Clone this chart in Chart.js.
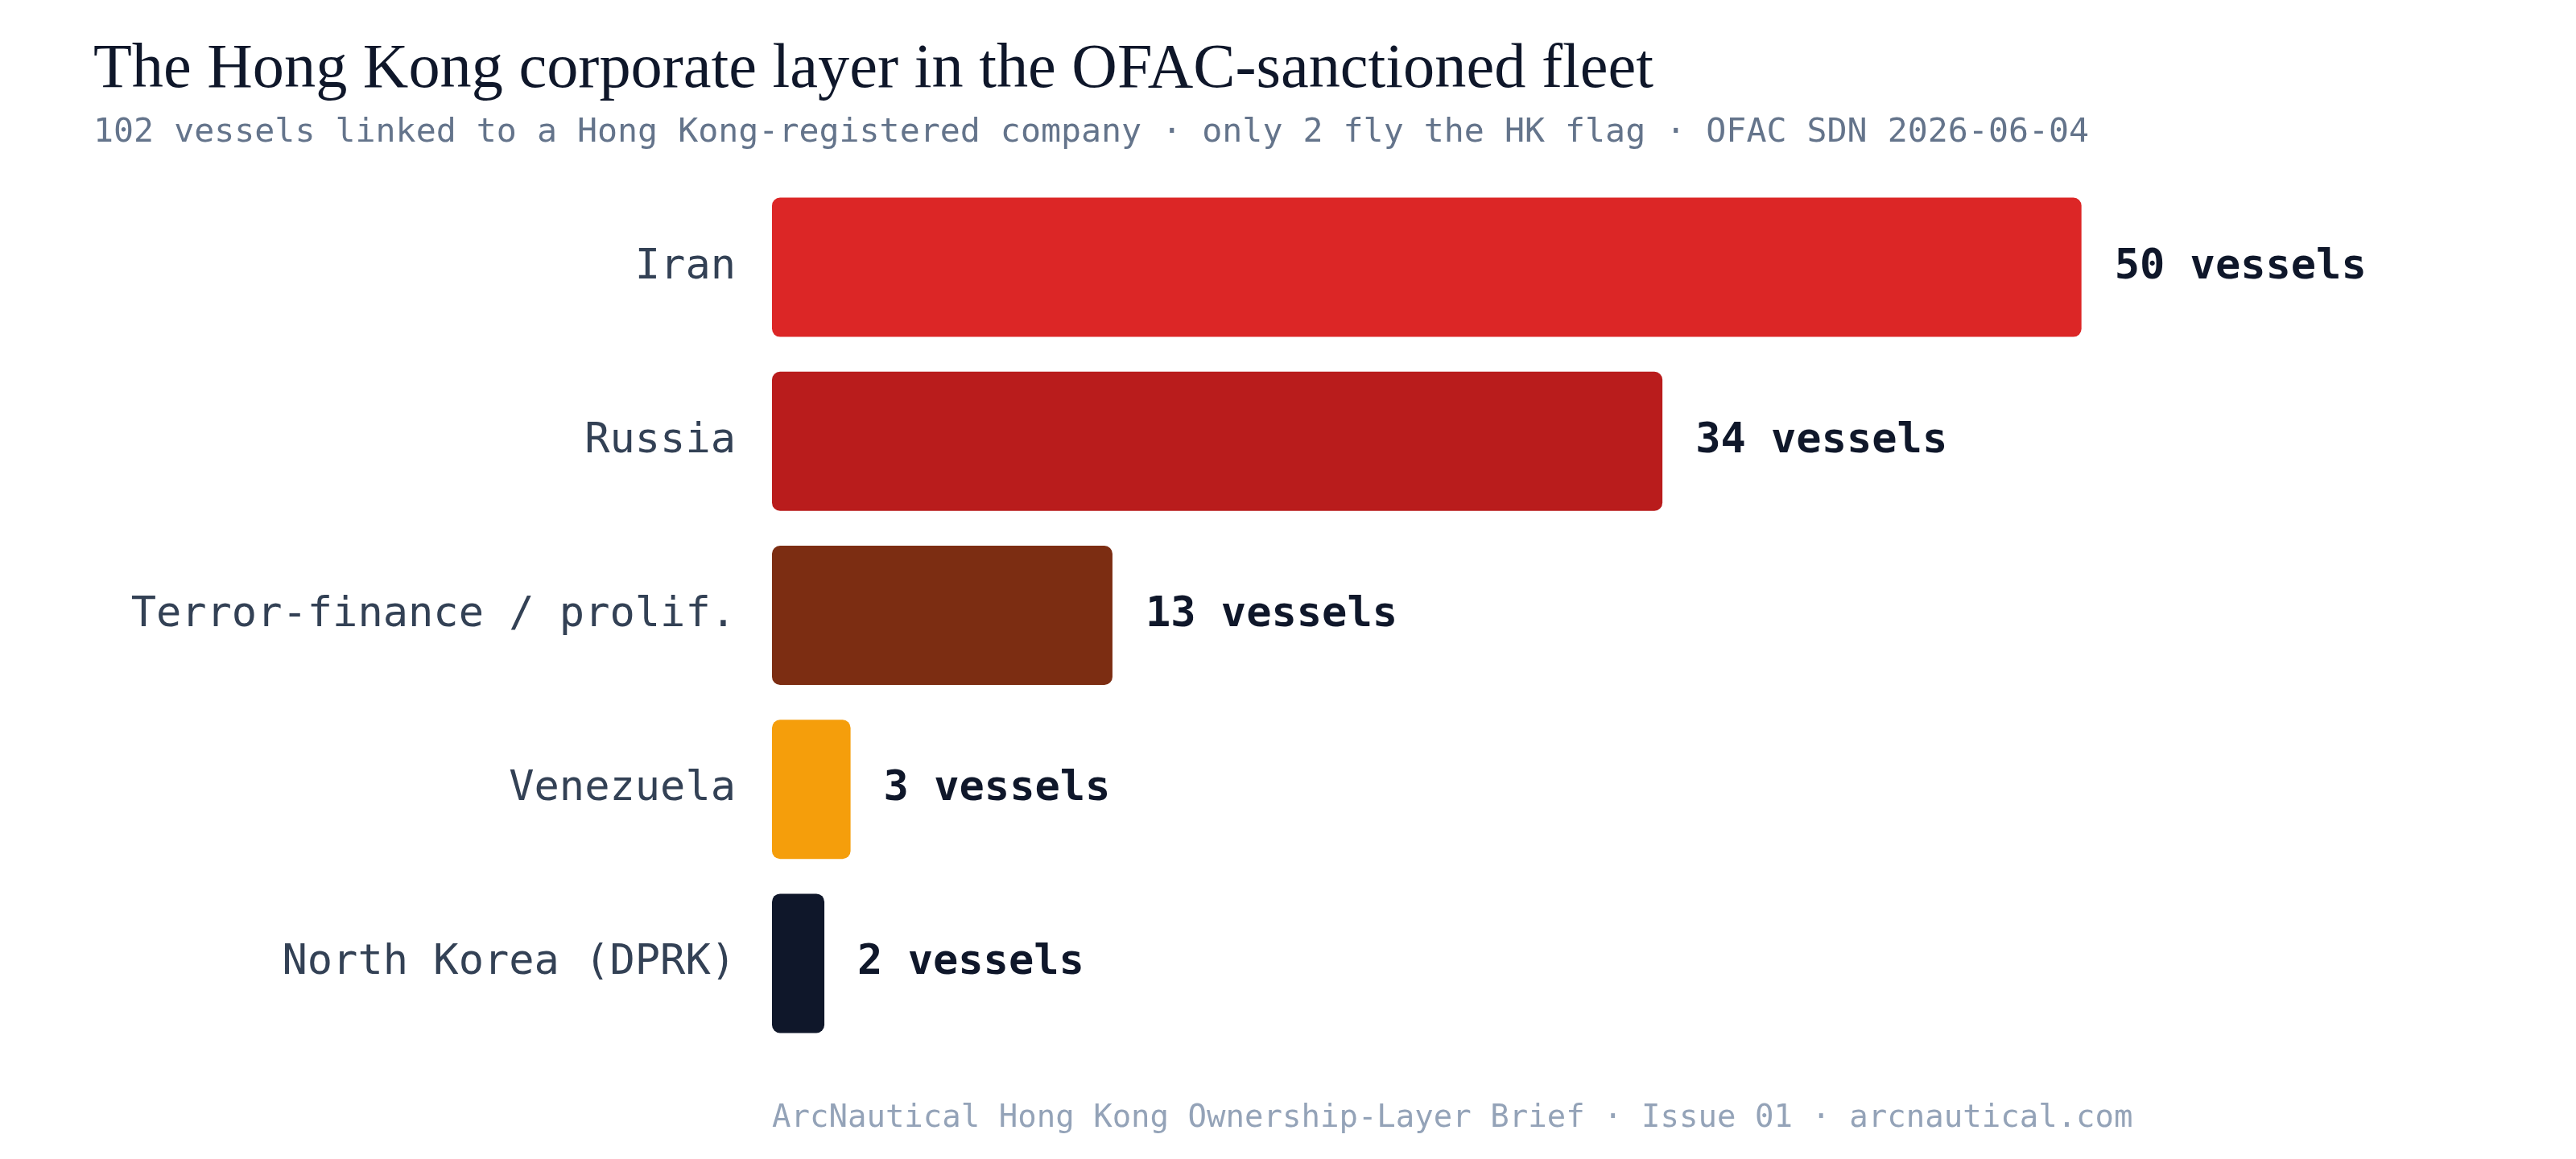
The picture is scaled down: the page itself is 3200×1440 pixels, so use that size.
<!DOCTYPE html>
<html>
<head>
<meta charset="utf-8">
<script src="https://cdn.jsdelivr.net/npm/chart.js@4.4.1/dist/chart.umd.min.js"></script>
<style>
  html, body { margin: 0; padding: 0; background: #ffffff; }
  #wrap { width: 3200px; height: 1440px; }
</style>
</head>
<body>
<div id="wrap"><canvas id="fleetChart" width="3200" height="1440"></canvas></div>
<script>
// data
const programs = ["Iran", "Russia", "Terror-finance / prolif.", "Venezuela", "North Korea (DPRK)"];
const vesselCounts = [50, 34, 13, 3, 2];
const barColors = ["#dc2626", "#b91c1c", "#7c2d12", "#f59e0b", "#0f172a"];

const titleText = "The Hong Kong corporate layer in the OFAC-sanctioned fleet";
const subtitleText = "102 vessels linked to a Hong Kong-registered company · only 2 fly the HK flag · OFAC SDN 2026-06-04";
const footerText = "ArcNautical Hong Kong Ownership-Layer Brief · Issue 01 · arcnautical.com";

const MONO = "'DejaVu Sans Mono', monospace";

// title, subtitle and footer
const textPlugin = {
  id: "texts",
  afterDraw(chart) {
    const ctx = chart.ctx;
    ctx.save();
    ctx.textAlign = "left";
    ctx.textBaseline = "alphabetic";

    ctx.fillStyle = "#0f172a";
    ctx.font = "78.3px 'Liberation Serif', Georgia, serif";
    ctx.fillText(titleText, 116, 108);

    ctx.fillStyle = "#64748b";
    ctx.font = "41.6px " + MONO;
    ctx.fillText(subtitleText, 116, 176);

    ctx.fillStyle = "#94a3b8";
    ctx.font = "39px " + MONO;
    ctx.fillText(footerText, chart.chartArea.left, 1400);
    ctx.restore();
  }
};

// "NN vessels" at the end of each bar
const valueLabels = {
  id: "valueLabels",
  afterDatasetsDraw(chart) {
    const ctx = chart.ctx;
    const meta = chart.getDatasetMeta(0);
    ctx.save();
    ctx.fillStyle = "#0f172a";
    ctx.font = "bold 52px " + MONO;
    ctx.textAlign = "left";
    ctx.textBaseline = "middle";
    meta.data.forEach((bar, i) => {
      ctx.fillText(vesselCounts[i] + " vessels", bar.x + 41, bar.y);
    });
    ctx.restore();
  }
};

const ctx = document.getElementById("fleetChart").getContext("2d");

new Chart(ctx, {
  type: "bar",
  data: {
    labels: programs,
    datasets: [{
      data: vesselCounts,
      backgroundColor: barColors,
      borderRadius: 10,
      borderSkipped: false,
      barPercentage: 0.8,
      categoryPercentage: 1.0
    }]
  },
  options: {
    indexAxis: "y",
    responsive: false,
    animation: false,
    devicePixelRatio: 1,
    layout: { padding: { left: 116, right: 289, top: 224, bottom: 135 } },
    plugins: {
      legend: { display: false },
      tooltip: { enabled: false }
    },
    scales: {
      x: {
        display: false,
        min: 0,
        max: 60
      },
      y: {
        grid: { display: false, drawTicks: false },
        border: { display: false },
        ticks: {
          color: "#334155",
          font: { family: MONO, size: 52 },
          padding: 45
        },
        afterFit(scale) { scale.width = 843; }
      }
    }
  },
  plugins: [textPlugin, valueLabels]
});
</script>
</body>
</html>
